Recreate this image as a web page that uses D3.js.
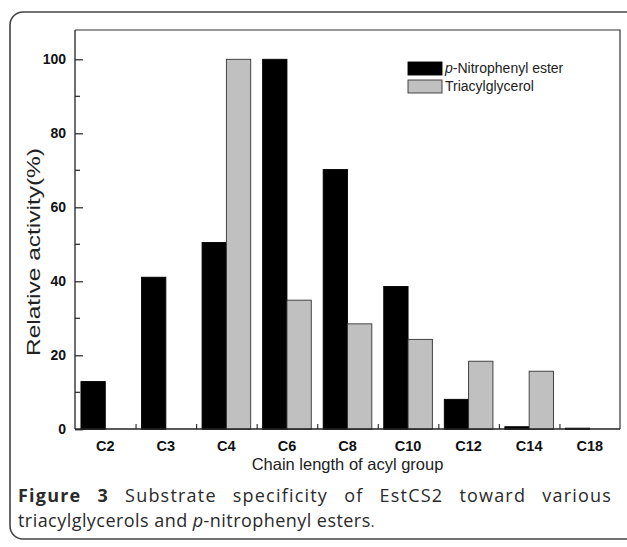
<!DOCTYPE html>
<html>
<head>
<meta charset="utf-8">
<script src="https://cdn.jsdelivr.net/npm/d3@7"></script>
<style>
  html, body { margin: 0; padding: 0; background: #fff; }
  svg { display: block; }
</style>
</head>
<body>
<svg id="chart" width="627" height="547"></svg>
<script>
// ---- data ----
const categories = ["C2", "C3", "C4", "C6", "C8", "C10", "C12", "C14", "C18"];
const nitrophenylEster = [12.9, 41.1, 50.5, 100, 70.2, 38.6, 8.1, 0.7, 0.3];
const triacylglycerol = [0, 0, 100, 34.9, 28.5, 24.3, 18.4, 15.7, 0];
const seriesKeys = ["nitro", "tag"];
const yMajorTicks = [0, 20, 40, 60, 80, 100];
const yMinorTicks = [10, 30, 50, 70, 90];
const xTitle = "Chain length of acyl group";
const yTitle = "Relative activity(%)";

const rows = categories.map((c, i) => ({ cat: c, nitro: nitrophenylEster[i], tag: triacylglycerol[i] }));

const svg = d3.select("#chart");
const plot = { left: 75, right: 620, top: 30, bottom: 429 };

// outer rounded frame
svg.append("rect")
  .attr("x", 10).attr("y", 12)
  .attr("width", 640).attr("height", 527)
  .attr("rx", 13).attr("ry", 13)
  .attr("fill", "none").attr("stroke", "#444").attr("stroke-width", 1.6);

const x0 = d3.scaleBand().domain(categories).range([plot.left, plot.right]).padding(0);
const x1 = d3.scaleBand().domain(seriesKeys).range([0, x0.bandwidth()]).paddingInner(0).paddingOuter(0.245);
const y = d3.scaleLinear().domain([0, 100]).range([429.3, 59.3]);

const colors = { nitro: "#000", tag: "#c0c0c0" };
const strokes = { nitro: "#000", tag: "#333" };

// bars
const g = svg.append("g");
rows.forEach(r => {
  seriesKeys.forEach(k => {
    if (r[k] <= 0) return;
    g.append("rect")
      .attr("x", x0(r.cat) + x1(k))
      .attr("y", y(r[k]))
      .attr("width", x1.bandwidth())
      .attr("height", y(0) - y(r[k]))
      .attr("fill", colors[k])
      .attr("stroke", strokes[k])
      .attr("stroke-width", 0.9);
  });
});

// plot frame (top and right lines)
svg.append("path")
  .attr("d", `M${plot.left},${plot.top}H${plot.right}V${plot.bottom}`)
  .attr("fill", "none").attr("stroke", "#333").attr("stroke-width", 1.2);

// y axis
const yAxis = d3.axisLeft(y).tickValues(yMajorTicks).tickSize(-8).tickPadding(9);
const yg = svg.append("g").attr("transform", `translate(${plot.left},0)`).call(yAxis);
yg.select(".domain").attr("d", `M0,${plot.top}V${plot.bottom}`).attr("stroke", "#222").attr("stroke-width", 1.3);
yg.selectAll(".tick line").attr("stroke", "#222").attr("stroke-width", 1.2);
yg.selectAll(".tick text")
  .attr("font-family", "Liberation Sans, Arial, sans-serif")
  .attr("font-weight", "bold").attr("font-size", 14).attr("fill", "#111");
yg.selectAll(".minor").data(yMinorTicks).enter().append("line")
  .attr("class", "minor")
  .attr("x1", 0).attr("x2", 5)
  .attr("y1", d => y(d)).attr("y2", d => y(d))
  .attr("stroke", "#222").attr("stroke-width", 1.2);

// x axis: ticks at category boundaries, labels at centres
const xBoundary = d3.scaleLinear().domain([0, categories.length]).range([plot.left, plot.right]);
const xAxis = d3.axisBottom(xBoundary).tickValues(d3.range(1, categories.length)).tickSize(-5).tickFormat("");
const xg = svg.append("g").attr("transform", `translate(0,${plot.bottom})`).call(xAxis);
xg.select(".domain").attr("d", `M${plot.left},0H${plot.right}`).attr("stroke", "#222").attr("stroke-width", 1.3);
xg.selectAll(".tick line").attr("stroke", "#222").attr("stroke-width", 1.1);

svg.append("g").selectAll("text").data(categories).enter().append("text")
  .attr("x", d => x0(d) + x0.bandwidth() / 2)
  .attr("y", 451)
  .attr("text-anchor", "middle")
  .attr("font-family", "Liberation Sans, Arial, sans-serif")
  .attr("font-weight", "bold").attr("font-size", 14.5).attr("fill", "#111")
  .text(d => d);

// axis titles
svg.append("text")
  .attr("x", (plot.left + plot.right) / 2).attr("y", 470)
  .attr("text-anchor", "middle")
  .attr("font-family", "Liberation Sans, Arial, sans-serif")
  .attr("font-size", 16.5).attr("fill", "#222")
  .text(xTitle);

svg.append("text")
  .attr("transform", `translate(40,252) rotate(-90)`)
  .attr("text-anchor", "middle")
  .attr("font-family", "Liberation Sans, Arial, sans-serif")
  .attr("font-size", 18.5).attr("fill", "#222")
  .attr("textLength", 208).attr("lengthAdjust", "spacingAndGlyphs")
  .text(yTitle);

// legend
const legend = svg.append("g");
const legendItems = [
  { key: "nitro", y: 62, label: [["p", "italic"], ["-Nitrophenyl ester", "normal"]] },
  { key: "tag", y: 80, label: [["Triacylglycerol", "normal"]] }
];
legendItems.forEach(it => {
  legend.append("rect")
    .attr("x", 408).attr("y", it.y).attr("width", 34).attr("height", 13)
    .attr("fill", colors[it.key]).attr("stroke", strokes[it.key]).attr("stroke-width", 0.9);
  const t = legend.append("text")
    .attr("x", 445).attr("y", it.y + 11)
    .attr("font-family", "Liberation Sans, Arial, sans-serif")
    .attr("font-size", 14).attr("fill", "#222");
  it.label.forEach(([s, st]) => t.append("tspan").attr("font-style", st).text(s));
});

// caption
const cap = svg.append("g")
  .attr("font-family", "Open Sans, Noto Sans, sans-serif")
  .attr("font-size", 18).attr("fill", "#2a2a2a");
const line1 = cap.append("text").attr("x", 18).attr("y", 502).attr("letter-spacing", 1.2);
line1.append("tspan").attr("font-weight", "bold").text("Figure 3");
line1.append("tspan").text(" Substrate specificity of EstCS2 toward various");
const target = 612 - 18;
const w1 = line1.node().getComputedTextLength();
const spaces = 7;
line1.attr("word-spacing", Math.max(0, (target - w1) / spaces));

const line2 = cap.append("text").attr("x", 18).attr("y", 527).attr("letter-spacing", 0.45);
line2.append("tspan").text("triacylglycerols and ");
line2.append("tspan").attr("font-style", "italic").text("p");
line2.append("tspan").text("-nitrophenyl esters");
line2.append("tspan").attr("font-size", 14).text(".");
</script>
</body>
</html>
